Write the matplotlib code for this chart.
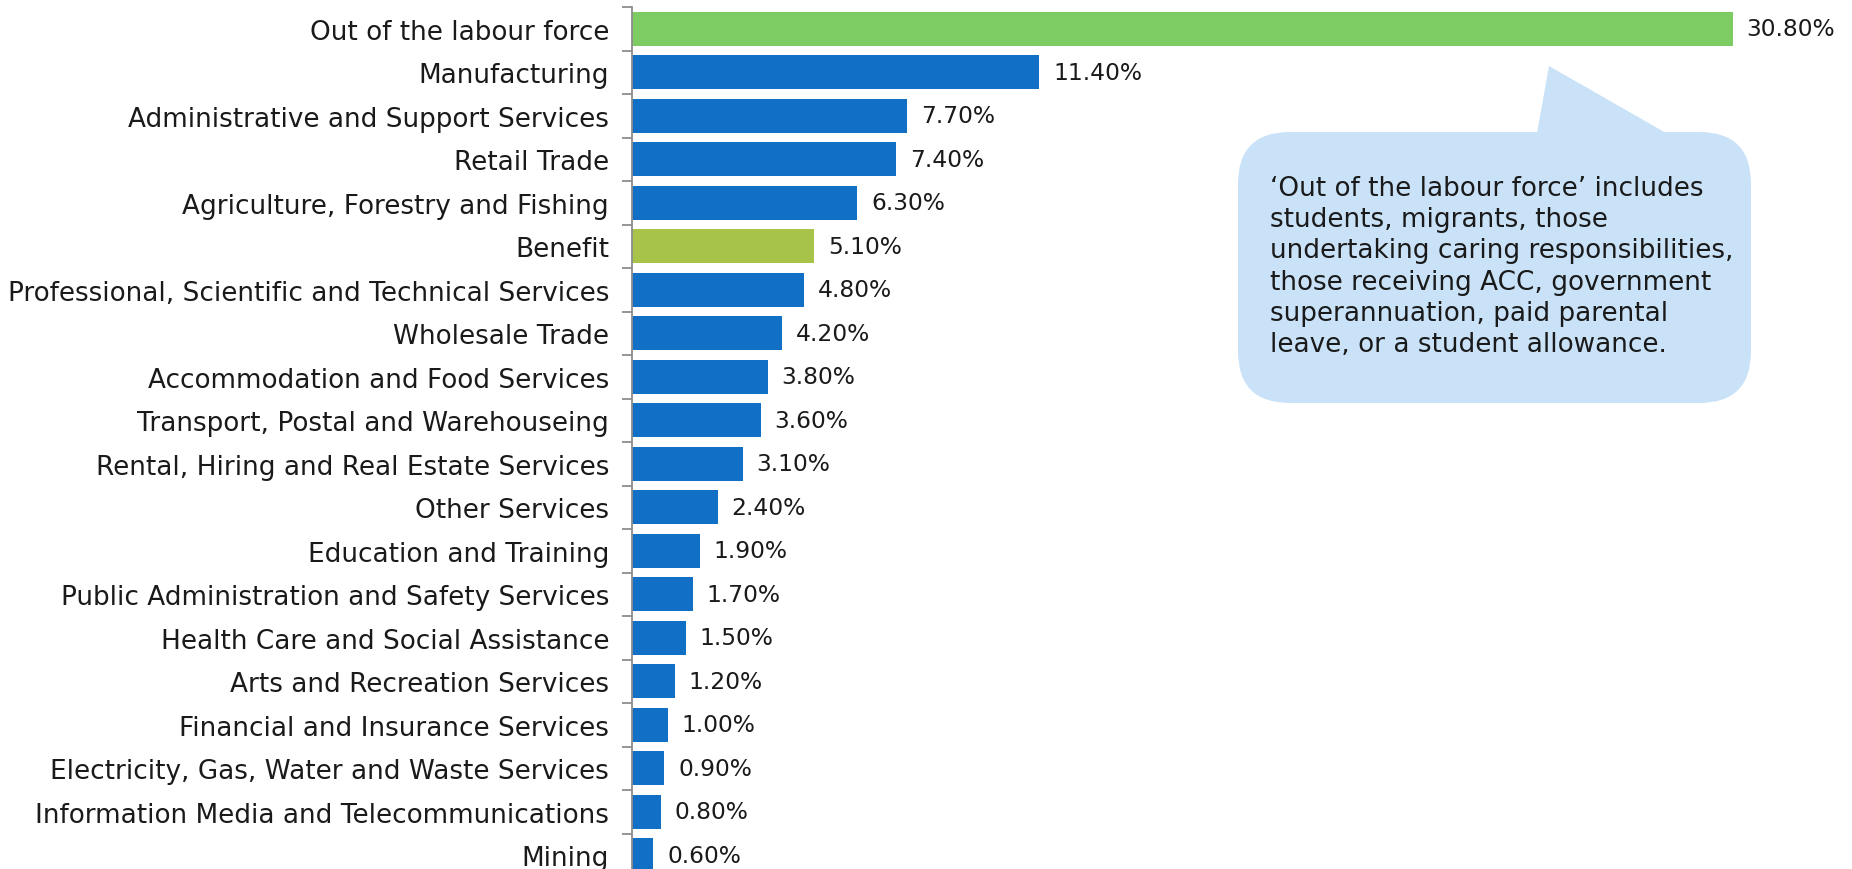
import matplotlib.pyplot as plt
from matplotlib.patches import FancyBboxPatch, Polygon

plt.rcParams['font.family'] = ['DejaVu Sans']

categories = ['Out of the labour force', 'Manufacturing', 'Administrative and Support Services',
              'Retail Trade', 'Agriculture, Forestry and Fishing', 'Benefit',
              'Professional, Scientific and Technical Services', 'Wholesale Trade',
              'Accommodation and Food Services', 'Transport, Postal and Warehouseing',
              'Rental, Hiring and Real Estate Services', 'Other Services',
              'Education and Training', 'Public Administration and Safety Services',
              'Health Care and Social Assistance', 'Arts and Recreation Services',
              'Financial and Insurance Services', 'Electricity, Gas, Water and Waste Services',
              'Information Media and Telecommunications', 'Mining']
values = [30.8, 11.4, 7.7, 7.4, 6.3, 5.1, 4.8, 4.2, 3.8, 3.6, 3.1, 2.4, 1.9, 1.7, 1.5,
          1.2, 1.0, 0.9, 0.8, 0.6]
bar_colors = ['#7dcb63', '#116fc6', '#116fc6', '#116fc6', '#116fc6', '#a8c34a'] + ['#116fc6'] * 14

note = ("\u2018Out of the labour force\u2019 includes\nstudents, migrants, those\n"
        "undertaking caring responsibilities,\nthose receiving ACC, government\n"
        "superannuation, paid parental\nleave, or a student allowance.")

W, H = 1852, 870
fig = plt.figure(figsize=(W / 100, H / 100), dpi=100)
ax = fig.add_axes([632 / W, -8 / H, 1215 / W, 870 / H])

y = list(range(len(categories)))
bars = ax.barh(y, values, height=0.79, color=bar_colors)
ax.set_ylim(len(categories) - 0.5, -0.5)
ax.set_xlim(0, 34)

ax.set_yticks(y)
ax.set_yticklabels(categories, fontsize=18.9, color='#1a1a1a')
ax.set_yticks([i - 0.5 for i in range(len(categories) + 1)], minor=True)
ax.tick_params(axis='y', which='major', length=0, pad=16.5)
ax.tick_params(axis='y', which='minor', length=7, color='#8c8c8c', width=1.3)
ax.xaxis.set_visible(False)
for s in ['top', 'right', 'bottom']:
    ax.spines[s].set_visible(False)
ax.spines['left'].set_color('#8c8c8c')
ax.spines['left'].set_linewidth(1.3)

ax.bar_label(bars, labels=['%.2f%%' % v for v in values], padding=10, fontsize=16.8,
             color='#1a1a1a')

# callout box
box_color = '#c9e2f8'
bx0, by0, bx1, by1 = 1238, 870 - 404, 1751, 870 - 133
box = FancyBboxPatch((bx0 / W, by0 / H), (bx1 - bx0) / W, (by1 - by0) / H,
                     boxstyle='round,pad=0,rounding_size=0.028',
                     transform=fig.transFigure, facecolor=box_color, edgecolor='none',
                     mutation_aspect=W / H)
fig.patches.append(box)
tail = Polygon([(1537 / W, (by1 - 1) / H), (1549 / W, (870 - 67) / H), (1666 / W, (by1 - 1) / H)],
               closed=True, transform=fig.transFigure, facecolor=box_color, edgecolor='none')
fig.patches.append(tail)
fig.text(1270 / W, (870 - 176) / H, note, fontsize=18.9, va='top', ha='left',
         linespacing=1.26, color='#1a1a1a')

fig.savefig('out.png', dpi=100)
